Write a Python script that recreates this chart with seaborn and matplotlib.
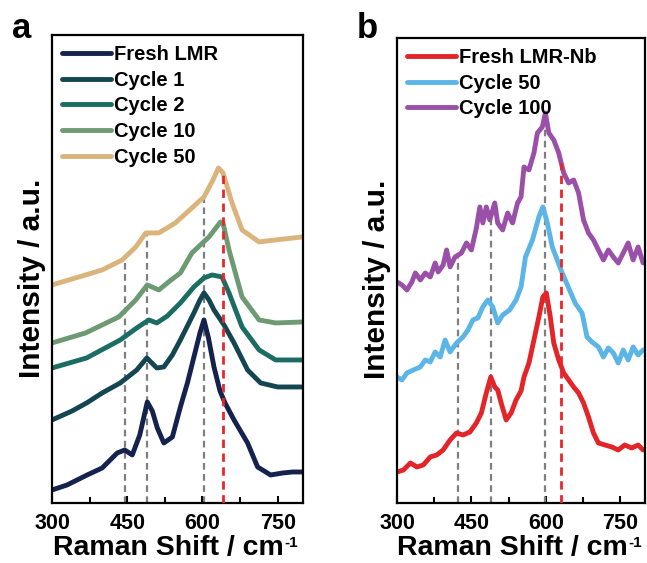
import numpy as np
import pandas as pd
import matplotlib
matplotlib.use("Agg")
import matplotlib.pyplot as plt
import seaborn as sns
from matplotlib.ticker import MultipleLocator

# Panel a: Raman spectra of LMR (offset, arbitrary units)
fresh_x = [300, 330, 370, 400, 430, 445, 460, 475, 490, 500, 510, 523, 540, 556, 570, 583, 595, 603, 612, 623, 635, 645, 663, 690, 710, 736, 760, 780, 800]
fresh_y = [13, 18, 28, 35, 50, 53, 48, 68, 101, 92, 75, 60, 66, 96, 120, 146, 170, 183, 165, 136, 112, 100, 83, 60, 36, 28, 30, 31, 31]
cyc1_x = [300, 340, 369, 400, 436, 469, 489, 509, 523, 540, 556, 570, 583, 595, 603, 613, 623, 643, 663, 690, 716, 750, 800]
cyc1_y = [83, 92, 100, 110, 120, 133, 145, 135, 136, 148, 163, 177, 190, 203, 210, 203, 193, 178, 160, 133, 120, 116, 116]
cyc2_x = [300, 369, 436, 469, 493, 509, 530, 556, 583, 603, 619, 639, 653, 679, 713, 746, 800]
cyc2_y = [135, 145, 163, 175, 183, 180, 187, 200, 216, 225, 228, 226, 210, 176, 153, 143, 143]
cyc10_x = [300, 367, 433, 467, 490, 513, 535, 556, 579, 613, 636, 641, 653, 679, 713, 746, 800]
cyc10_y = [160, 170, 186, 203, 218, 213, 222, 230, 250, 266, 281, 280, 253, 206, 183, 180, 181]
cyc50_x = [300, 367, 400, 440, 467, 487, 513, 546, 579, 603, 620, 632, 641, 659, 679, 713, 746, 800]
cyc50_y = [218, 228, 233, 243, 256, 270, 270, 280, 295, 306, 322, 335, 330, 300, 273, 261, 263, 266]

# Panel b: Raman spectra of LMR-Nb
nb_x = [300, 313, 327, 340, 353, 367, 380, 393, 407, 420, 433, 447, 460, 470, 480, 489, 497, 503, 510, 520,
        530, 540, 550, 556, 566, 576, 586, 594, 601, 609, 616, 626, 636, 646, 656, 666, 676, 686, 696, 706,
        719, 733, 746, 759, 773, 786, 796]
nb_y = [31, 33, 40, 36, 38, 46, 48, 53, 63, 70, 68, 71, 80, 90, 110, 126, 116, 113, 100, 83,
        90, 103, 112, 126, 140, 163, 186, 206, 210, 186, 160, 143, 130, 123, 116, 110, 100, 86, 70, 60,
        58, 56, 53, 58, 55, 58, 53]
nb50_x = [300, 310, 320, 333, 347, 357, 367, 377, 387, 397, 407, 420, 433, 443, 453, 463, 473, 483, 493, 503,
          513, 527, 540, 550, 559, 573, 586, 594, 603, 613, 623, 633, 646, 659, 673, 683, 693, 706, 716, 726,
          736, 746, 756, 766, 776, 786, 796]
nb50_y = [126, 123, 130, 133, 136, 143, 141, 151, 146, 163, 151, 160, 166, 173, 183, 185, 196, 203, 196, 180,
          188, 193, 203, 216, 246, 263, 286, 296, 280, 256, 243, 230, 215, 200, 190, 166, 161, 156, 146, 155,
          150, 140, 153, 143, 156, 148, 153]
nb100_x = [300, 310, 320, 330, 337, 347, 357, 367, 377, 383, 393, 400, 407, 417, 430, 440, 450, 460, 467, 473,
           480, 487, 497, 503, 513, 523, 533, 543, 550, 556, 566, 576, 583, 593, 599, 606, 616, 626, 636, 646,
           656, 666, 676, 686, 696, 706, 716, 726, 736, 746, 756, 766, 776, 786, 796]
nb100_y = [221, 218, 213, 221, 230, 223, 230, 226, 240, 231, 238, 253, 236, 246, 250, 260, 253, 275, 296, 280,
           296, 283, 300, 280, 273, 290, 280, 300, 306, 336, 333, 350, 370, 376, 390, 370, 363, 350, 330, 320,
           323, 310, 283, 270, 263, 253, 243, 253, 246, 240, 250, 260, 243, 256, 240]

# reference peak positions (cm-1)
gray_a = [445, 489, 603]
red_a = 641
gray_b = [423, 489, 599]
red_b = 631

series_a = [("Fresh LMR", fresh_x, fresh_y, "#15224e"),
            ("Cycle 1", cyc1_x, cyc1_y, "#134650"),
            ("Cycle 2", cyc2_x, cyc2_y, "#1b6d63"),
            ("Cycle 10", cyc10_x, cyc10_y, "#6e9a73"),
            ("Cycle 50", cyc50_x, cyc50_y, "#dbb47c")]
series_b = [("Fresh LMR-Nb", nb_x, nb_y, "#e32428"),
            ("Cycle 50", nb50_x, nb50_y, "#5bb5e6"),
            ("Cycle 100", nb100_x, nb100_y, "#9a4fa8")]

sns.set_style("ticks")
plt.rcParams['font.family'] = ['Liberation Sans', 'DejaVu Sans']
plt.rcParams['font.weight'] = 'bold'
plt.rcParams['text.color'] = 'black'
plt.rcParams['axes.labelcolor'] = 'black'
plt.rcParams['xtick.color'] = 'black'

fig = plt.figure(figsize=(6.47, 5.63), dpi=100)
ax_a = fig.add_axes([0.0804, 0.1066, 0.3875, 0.8314])
ax_b = fig.add_axes([0.6136, 0.1066, 0.3834, 0.8260])


def draw_panel(ax, series, grays, red, ylim):
    top_x, top_y = series[-1][1], series[-1][2]
    for g in grays:
        ax.vlines(g, 0, np.interp(g, top_x, top_y), colors="#7f7f7f",
                  linestyles=(0, (3, 2)), linewidth=1.6, zorder=1)
    ax.vlines(red, 0, np.interp(red, top_x, top_y), colors="#e8262b",
              linestyles=(0, (3, 2)), linewidth=2, zorder=3)
    for name, xs, ys, col in series:
        df = pd.DataFrame({"shift": xs, "intensity": ys})
        sns.lineplot(data=df, x="shift", y="intensity", color=col, linewidth=3.5,
                     label=name, ax=ax, zorder=2)
    ax.set_xlim(300, 800)
    ax.set_ylim(*ylim)
    ax.set_yticks([])
    ax.xaxis.set_major_locator(MultipleLocator(150))
    ax.xaxis.set_minor_locator(MultipleLocator(75))
    ax.tick_params(axis="x", which="both", direction="in", width=1.5, labelsize=15.5, pad=7)
    ax.tick_params(axis="x", which="major", length=5)
    ax.tick_params(axis="x", which="minor", length=4)
    for lbl in ax.get_xticklabels():
        lbl.set_fontweight("bold")
    for sp in ax.spines.values():
        sp.set_linewidth(1.6)
        sp.set_color("black")
    xl = ax.set_xlabel("Raman Shift / cm", fontsize=20.5, fontweight="bold")
    ax.xaxis.set_label_coords(0.465, -0.068, transform=ax.transAxes)
    xl.set_verticalalignment("top")
    ax.annotate("-1", xy=(1.0, 1.0), xycoords=xl, xytext=(0.5, -1), textcoords="offset points",
                ha="left", va="top", fontsize=11, fontweight="bold")
    ax.set_ylabel("Intensity / a.u.", fontsize=21.5, fontweight="bold", labelpad=4)
    ax.yaxis.set_label_coords(-0.025, 0.48)
    leg = ax.legend(loc="upper left", frameon=False, handlelength=2.45,
                    handletextpad=0.15, labelspacing=0.33, borderaxespad=0.3,
                    borderpad=0.2, prop={"weight": "bold", "size": 14.5})
    for h in leg.get_lines():
        h.set_linewidth(3.5)


draw_panel(ax_a, series_a, gray_a, red_a, (0, 468))
draw_panel(ax_b, series_b, gray_b, red_b, (0, 465))

fig.text(0.018, 0.933, "a", fontsize=25, fontweight="bold")
fig.text(0.551, 0.933, "b", fontsize=25, fontweight="bold")

fig.savefig("out.png", dpi=100)
